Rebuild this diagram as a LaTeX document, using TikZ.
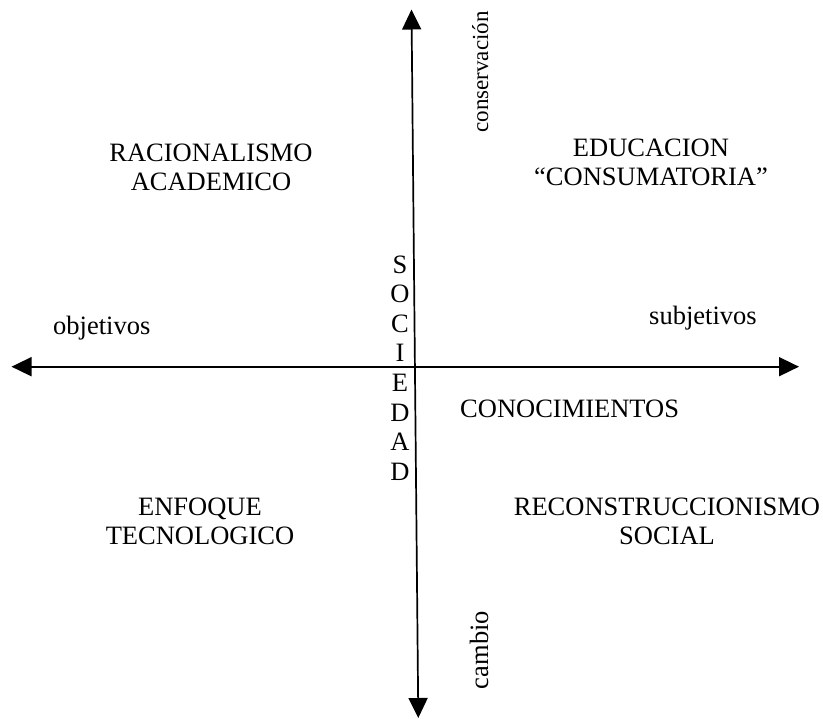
\documentclass[tikz,border=0pt]{standalone}
\usepackage{fontspec}
\setmainfont{Liberation Serif}
\usetikzlibrary{arrows.meta}
\begin{document}
\begin{tikzpicture}[x=1pt,y=-1pt,
  axis/.style={line width=1.7pt,{Triangle[length=20pt,width=19pt]}-{Triangle[length=20pt,width=19pt]}},
  lbl/.style={inner sep=0pt,font=\fontsize{26.5}{28.8}\selectfont,align=center},
  vert/.style={lbl,rotate=90,anchor=base},
  stack/.style={inner sep=0pt,font=\fontsize{26.5}{29.6}\selectfont,align=center}]
\useasboundingbox (0,0) rectangle (823,719);
\coordinate (vtop) at (411.5,9.5);
\coordinate (vbot) at (418.3,718);
\coordinate (hleft) at (11.5,366.7);
\coordinate (hright) at (799,366.7);
\draw[axis] (vbot) -- (vtop);
\draw[axis] (hleft) -- (hright);
\node[lbl] (racional) at (211,167) {RACIONALISMO\\ACADEMICO};
\node[lbl] (educ) at (651,162) {EDUCACION\\“CONSUMATORIA”};
\node[lbl] (enfoque) at (200,521.5) {ENFOQUE\\TECNOLOGICO};
\node[lbl] (recons) at (667,521.5) {RECONSTRUCCIONISMO\\SOCIAL};
\node[lbl,anchor=base west] (conoc) at (460,418) {CONOCIMIENTOS};
\node[lbl,anchor=base west] (obj) at (53,335) {objetivos};
\node[lbl,anchor=base west] (subj) at (649,325) {subjetivos};
\node[vert,font=\fontsize{23}{26}\selectfont] (conserv) at (488,72) {conservación};
\node[vert] (cambio) at (488,650) {cambio};
\node[stack] (soc) at (400,368) {S\\O\\C\\I\\E\\D\\A\\D};
\end{tikzpicture}
\end{document}
